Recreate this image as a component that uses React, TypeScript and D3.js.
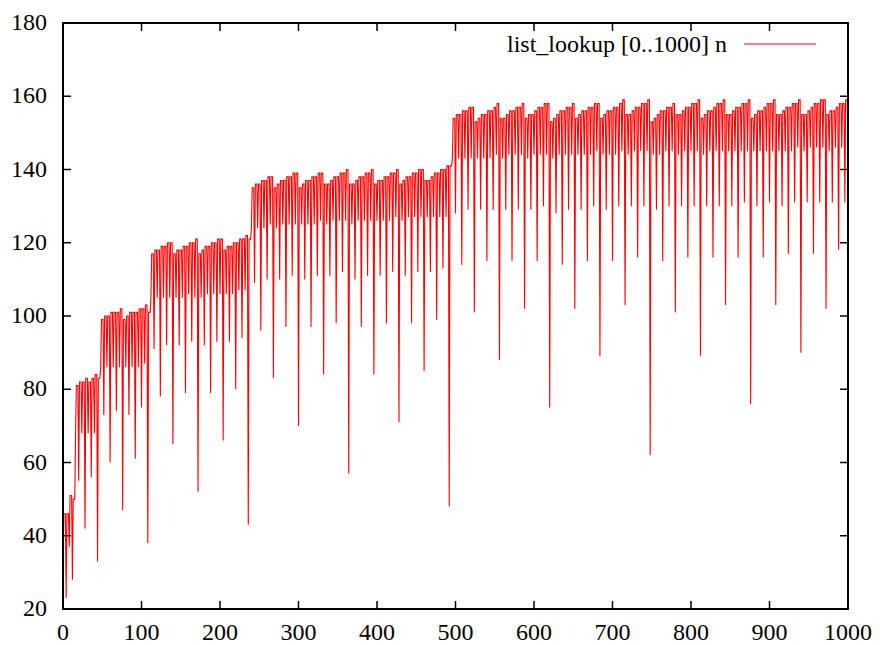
import React, { useEffect, useRef } from 'react';
import * as d3 from 'd3';

// first n of every plateau; dips sit at n = start + 4*i, the peak fills n+1..n+3
const levelStarts = [0, 16, 48, 112, 240, 496];

const dipsL0 = [32, 23, 37, 28];
const peaksL0 = [46, 46, 51, 50];

const dipsL1 = [68, 55, 68, 42, 68, 56, 68, 33];
const peaksL1 = [81, 82, 82, 83, 82, 83, 84, 83];

const dipsL2 = [86, 73, 86, 60, 86, 74, 86, 47, 86, 73, 86, 61, 86, 75, 87, 38];
const peaksL2 = [99, 100, 100, 101, 101, 101, 102, 99, 100, 101, 101, 101, 102, 102, 103, 101];

const dipsL3 = [
    105, 91, 105, 78, 105, 92, 105, 65,
    105, 92, 105, 79, 106, 93, 105, 52,
    105, 92, 106, 79, 106, 93, 106, 66,
    106, 93, 106, 80, 107, 94, 107, 43,
];
const peaksL3 = [
    117, 118, 118, 119, 119, 120, 120, 117,
    118, 118, 119, 119, 120, 120, 121, 117,
    118, 119, 119, 120, 120, 121, 121, 118,
    119, 119, 120, 120, 121, 121, 122, 121,
];

const dipsL4 = [
    124, 109, 124, 96, 124, 110, 125, 83,
    124, 110, 125, 97, 125, 111, 125, 70,
    125, 110, 125, 97, 125, 111, 126, 84,
    125, 111, 126, 98, 126, 112, 126, 57,
    125, 110, 126, 97, 126, 111, 126, 84,
    126, 111, 126, 98, 126, 112, 127, 71,
    126, 111, 127, 98, 127, 112, 127, 85,
    127, 112, 127, 99, 127, 113, 127, 48,
];
const peaksL4 = [
    135, 136, 136, 137, 137, 138, 138, 135,
    136, 137, 137, 138, 138, 139, 139, 135,
    136, 137, 137, 138, 138, 139, 139, 136,
    136, 137, 138, 138, 139, 139, 140, 136,
    136, 137, 138, 138, 139, 139, 140, 136,
    137, 137, 138, 138, 139, 139, 140, 136,
    137, 138, 138, 139, 139, 140, 140, 137,
    137, 138, 139, 139, 140, 140, 141, 141,
];

const dipsL5 = [
    143, 128, 143, 114, 143, 129, 143, 101,
    143, 129, 143, 115, 143, 129, 144, 88,
    143, 129, 144, 115, 144, 129, 144, 102,
    143, 129, 144, 115, 144, 130, 144, 75,
    143, 128, 144, 114, 144, 129, 144, 102,
    144, 129, 144, 115, 144, 130, 145, 89,
    144, 129, 144, 115, 144, 130, 145, 103,
    144, 130, 145, 116, 145, 130, 145, 62,
    144, 129, 144, 115, 145, 130, 145, 101,
    144, 130, 145, 116, 145, 130, 145, 89,
    144, 130, 145, 116, 145, 130, 145, 103,
    145, 130, 145, 116, 145, 131, 145, 76,
    145, 130, 145, 116, 145, 131, 145, 103,
    145, 130, 145, 117, 145, 131, 146, 90,
    145, 131, 146, 117, 146, 131, 146, 102,
    145, 131, 146, 118, 146, 131, 145,
];
const peaksL5 = [
    154, 155, 155, 156, 156, 157, 157, 153,
    154, 155, 155, 156, 156, 157, 158, 154,
    154, 155, 156, 156, 157, 157, 158, 154,
    155, 155, 156, 157, 157, 158, 158, 153,
    154, 155, 156, 156, 157, 157, 158, 154,
    155, 156, 156, 157, 157, 158, 158, 154,
    155, 156, 156, 157, 157, 158, 159, 155,
    155, 156, 157, 157, 158, 158, 159, 153,
    154, 155, 156, 156, 157, 157, 158, 155,
    155, 156, 157, 157, 158, 158, 159, 154,
    155, 156, 156, 157, 158, 158, 159, 155,
    155, 156, 157, 157, 158, 158, 159, 154,
    155, 156, 156, 157, 158, 158, 159, 155,
    155, 156, 157, 157, 158, 158, 159, 155,
    155, 156, 157, 158, 158, 159, 159, 155,
    156, 156, 157, 158, 158, 159,
];

const levelDips = [dipsL0, dipsL1, dipsL2, dipsL3, dipsL4, dipsL5];
const levelPeaks = [peaksL0, peaksL1, peaksL2, peaksL3, peaksL4, peaksL5];

const xTicks = [0, 100, 200, 300, 400, 500, 600, 700, 800, 900, 1000];
const yTicks = [20, 40, 60, 80, 100, 120, 140, 160, 180];
const seriesLabel = 'list_lookup [0..1000] n';

export default function App() {
    const svgRef = useRef<SVGSVGElement>(null);

    useEffect(() => {
        const svg = d3.select(svgRef.current);
        svg.selectAll('*').remove();

        const frame = { left: 63, right: 848, top: 23, bottom: 609 };
        const font = 'Liberation Serif, Tinos, DejaVu Serif, Times New Roman, serif';
        const tickLen = 8;

        const xScale = d3.scaleLinear().domain([0, 1000]).range([frame.left, frame.right]);
        const yScale = d3.scaleLinear().domain([20, 180]).range([frame.bottom, frame.top]);

        // build the polyline from the per-level tables
        const points: [number, number][] = [];
        levelDips.forEach((dips, li) => {
            const start = levelStarts[li];
            const peaks = levelPeaks[li];
            dips.forEach((d, i) => {
                const n = start + i * 4;
                points.push([n, d]);
                if (peaks[i] !== undefined) {
                    points.push([n + 1, peaks[i]]);
                    points.push([n + 3, peaks[i]]);
                }
            });
        });

        const g = svg.append('g');

        // ticks, mirrored on top and right like gnuplot
        const ticks = g.append('g').attr('stroke', 'black').attr('stroke-width', 1.5);
        xTicks.forEach((t) => {
            const px = xScale(t);
            ticks.append('line').attr('x1', px).attr('x2', px).attr('y1', frame.bottom).attr('y2', frame.bottom - tickLen);
            ticks.append('line').attr('x1', px).attr('x2', px).attr('y1', frame.top).attr('y2', frame.top + tickLen);
        });
        yTicks.forEach((t) => {
            const py = yScale(t);
            ticks.append('line').attr('x1', frame.left).attr('x2', frame.left + tickLen).attr('y1', py).attr('y2', py);
            ticks.append('line').attr('x1', frame.right).attr('x2', frame.right - tickLen).attr('y1', py).attr('y2', py);
        });

        g.append('g')
            .selectAll('text')
            .data(xTicks)
            .enter()
            .append('text')
            .attr('x', (d) => xScale(d))
            .attr('y', 640)
            .attr('text-anchor', 'middle')
            .attr('font-family', font)
            .attr('font-size', 24)
            .text((d) => d);

        g.append('g')
            .selectAll('text')
            .data(yTicks)
            .enter()
            .append('text')
            .attr('x', 47)
            .attr('y', (d) => yScale(d) + 7)
            .attr('text-anchor', 'end')
            .attr('font-family', font)
            .attr('font-size', 24)
            .text((d) => d);

        const line = d3
            .line<[number, number]>()
            .x((d) => xScale(d[0]))
            .y((d) => yScale(d[1]));

        g.append('path')
            .datum(points)
            .attr('d', line)
            .attr('fill', 'none')
            .attr('stroke', '#ff0000')
            .attr('stroke-width', 1.1);

        g.append('rect')
            .attr('x', frame.left)
            .attr('y', frame.top)
            .attr('width', frame.right - frame.left)
            .attr('height', frame.bottom - frame.top)
            .attr('fill', 'none')
            .attr('stroke', 'black')
            .attr('stroke-width', 2);

        // key
        g.append('text')
            .attr('x', 727)
            .attr('y', 52)
            .attr('text-anchor', 'end')
            .attr('font-family', font)
            .attr('font-size', 24)
            .text(seriesLabel);
        g.append('line')
            .attr('x1', 744)
            .attr('x2', 816)
            .attr('y1', 44)
            .attr('y2', 44)
            .attr('stroke', '#ff0000')
            .attr('stroke-width', 1);
    }, []);

    return <svg ref={svgRef} width={880} height={645} style={{ position: 'absolute', left: 0, top: 0, background: 'white' }} />;
}
